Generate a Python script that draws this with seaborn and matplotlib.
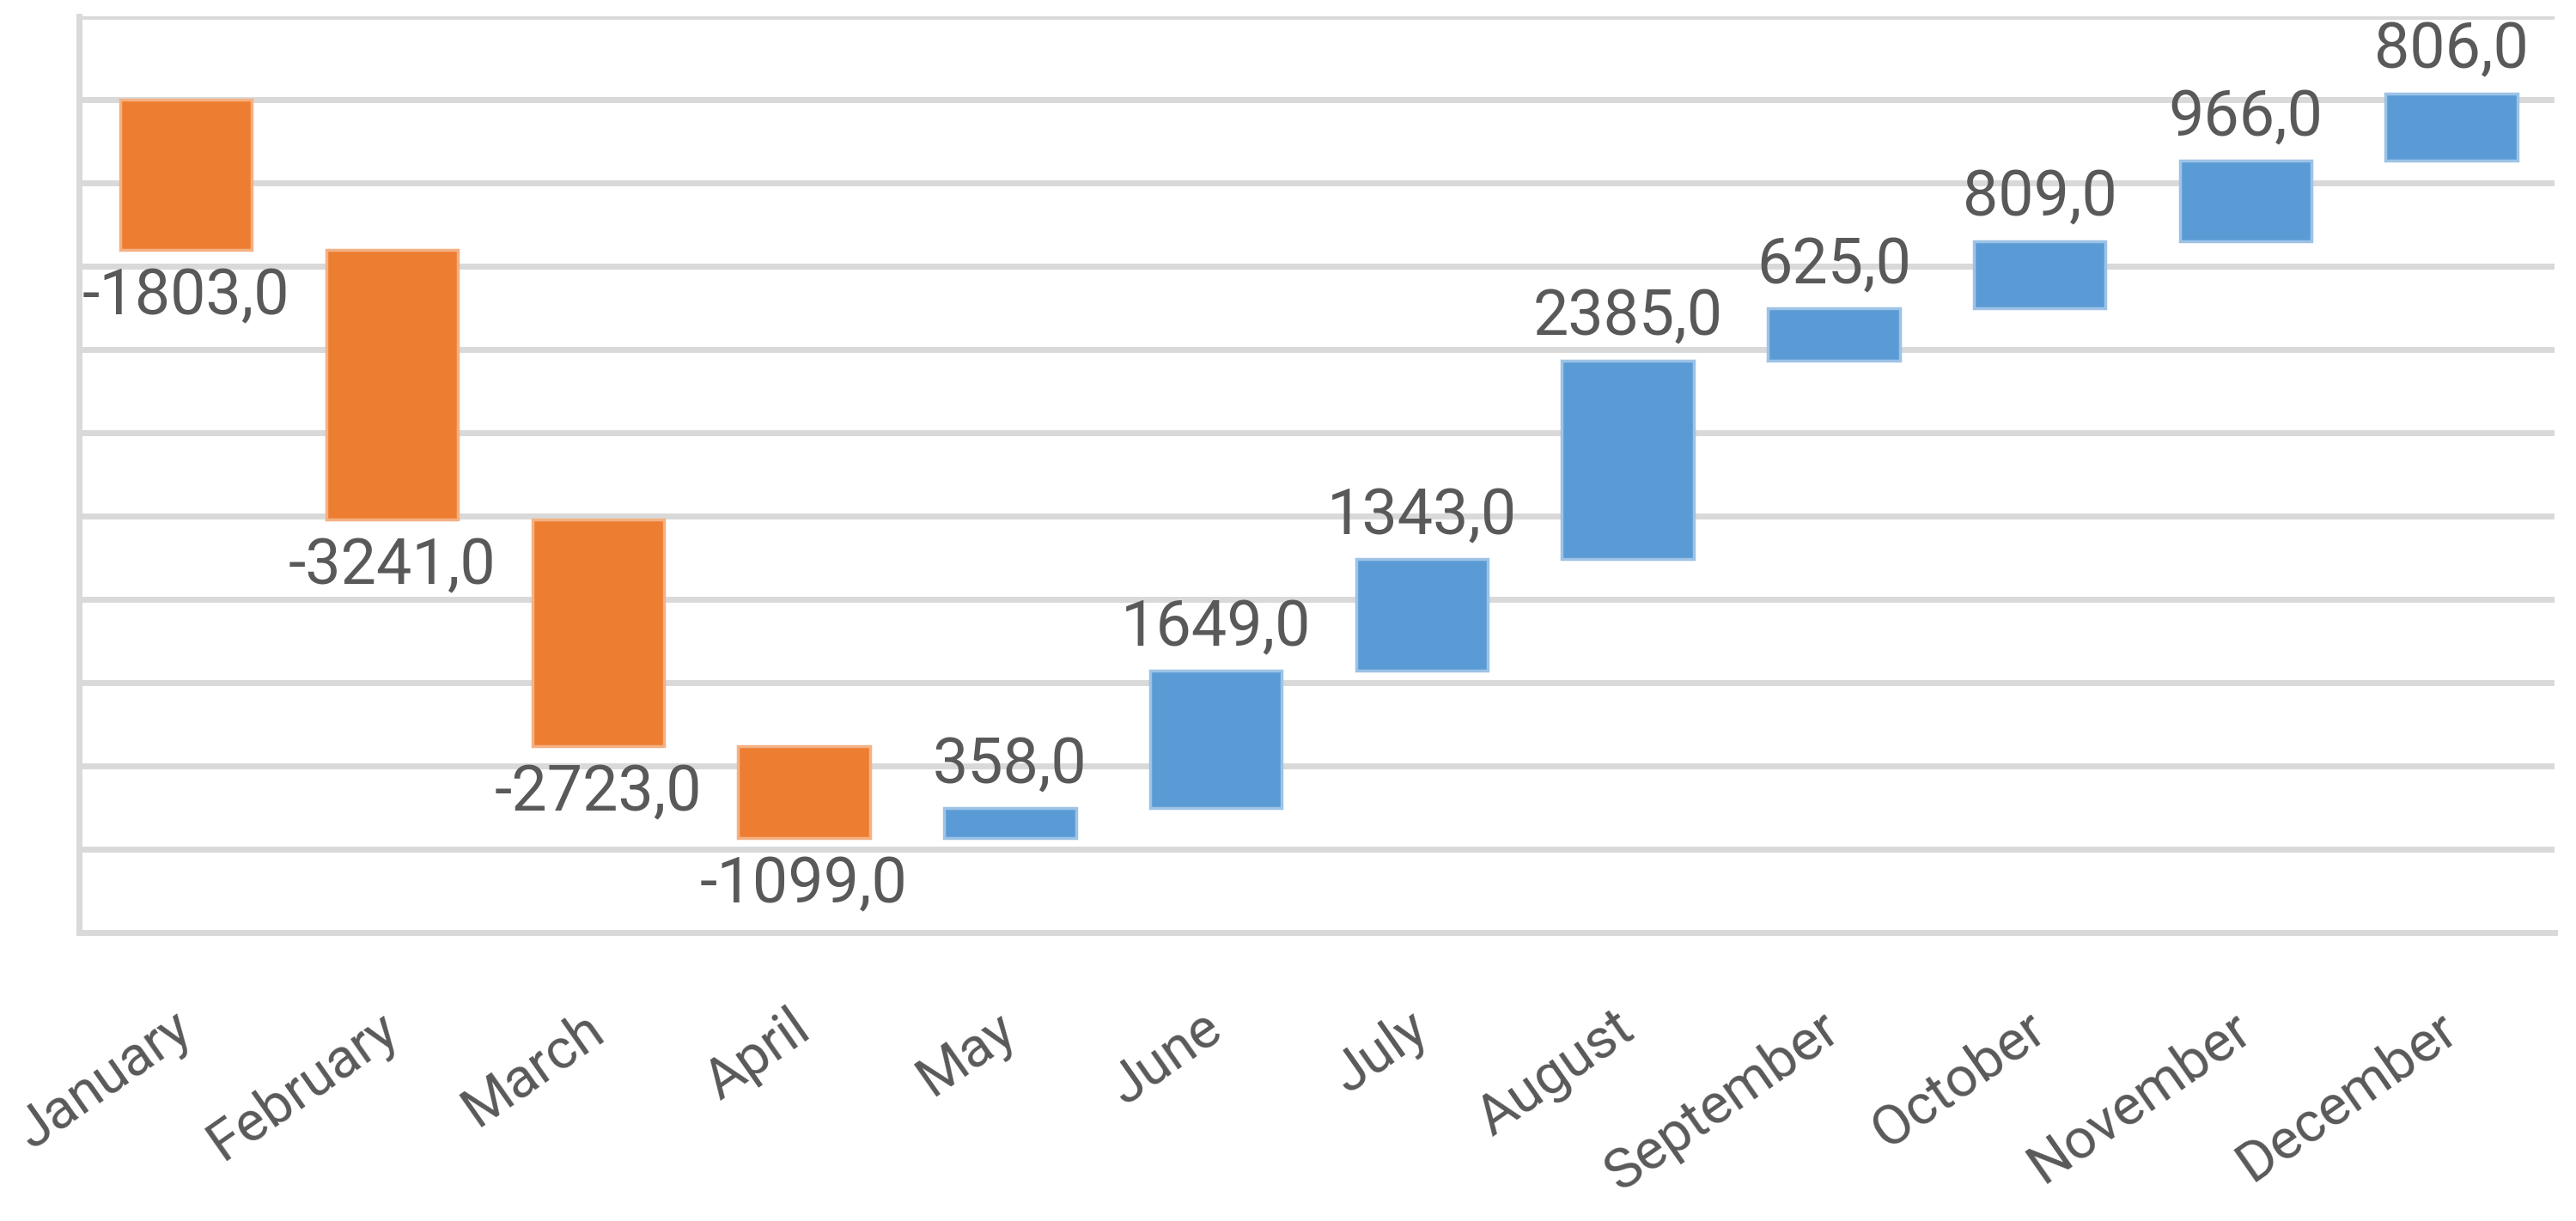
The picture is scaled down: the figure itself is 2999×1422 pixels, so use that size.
import numpy as np
import pandas as pd
import matplotlib
matplotlib.use("Agg")
import matplotlib.pyplot as plt
import seaborn as sns

# monthly changes (waterfall)
months = ["January", "February", "March", "April", "May", "June", "July",
          "August", "September", "October", "November", "December"]
changes = [-1803, -3241, -2723, -1099, 358, 1649, 1343, 2385, 625, 809, 966, 806]

df = pd.DataFrame({"month": months, "change": changes})
df["end"] = df["change"].cumsum()
df["start"] = df["end"] - df["change"]

orange = "#ED7D31"
blue = "#5B9BD5"
face = [orange if v < 0 else blue for v in df["change"]]
edge = ["#F4B183" if v < 0 else "#9DC3E6" for v in df["change"]]

sns.set_theme(style="white")
plt.rcParams["font.family"] = ["Roboto", "DejaVu Sans"]

fig = plt.figure(figsize=(29.99, 14.22), dpi=100)
ax = fig.add_axes([0.0307, 0.2363, 0.961, 0.7503])

sns.barplot(data=df, x="month", y="change", bottom=df["start"].values,
            color=blue, saturation=1, facecolor=face, edgecolor=edge,
            linewidth=2.5, width=0.64, errorbar=None, ax=ax)

# value labels: below for negative, above for positive
for i, row in df.iterrows():
    txt = f"{row['change']:.1f}".replace(".", ",")
    if row["change"] < 0:
        ax.annotate(txt, (i, row["end"]), xytext=(0, -14),
                    textcoords="offset points", ha="center", va="top",
                    fontsize=53, color="#595959")
    else:
        ax.annotate(txt, (i, row["end"]), xytext=(0, 10),
                    textcoords="offset points", ha="center", va="bottom",
                    fontsize=53, color="#595959")

ax.set_ylim(-10000, 1000)
ax.set_xlim(-0.52, 11.5)
ax.set_yticks(np.arange(-10000, 1001, 1000))
ax.set_yticklabels([])
ax.tick_params(axis="y", length=0)
ax.grid(axis="y", color="#D9D9D9", linewidth=5)
ax.set_axisbelow(True)

ax.set_xlabel("")
ax.set_ylabel("")
ax.tick_params(axis="x", length=0, pad=76, labelsize=47, labelcolor="#595959")
for lab in ax.get_xticklabels():
    lab.set_rotation(35)
    lab.set_ha("right")
    lab.set_va("center")
    lab.set_rotation_mode("anchor")

for s in ["top", "right"]:
    ax.spines[s].set_visible(False)
for s in ["left", "bottom"]:
    ax.spines[s].set_color("#D9D9D9")
    ax.spines[s].set_linewidth(5)

fig.savefig("out.png", dpi=100)
